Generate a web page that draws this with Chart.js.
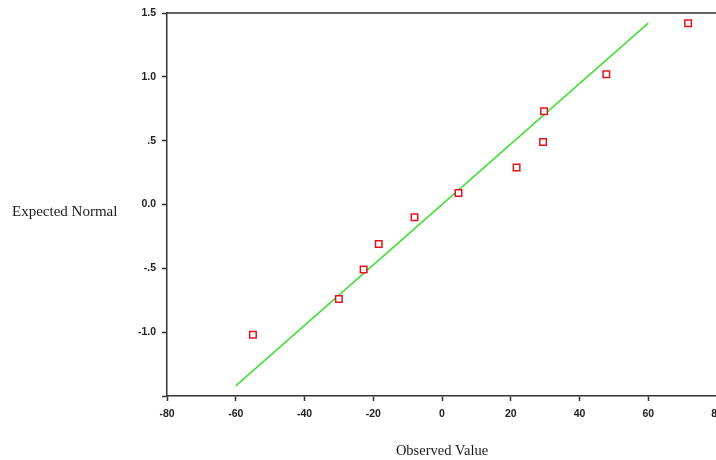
<!DOCTYPE html>
<html>
<head>
<meta charset="utf-8">
<script src="https://cdn.jsdelivr.net/npm/chart.js@4/dist/chart.umd.min.js"></script>
<style>
  html, body { margin: 0; padding: 0; background: #fff; overflow: hidden; }
  #wrap { position: relative; width: 737px; height: 460px; }
</style>
</head>
<body>
<div id="wrap"><canvas id="qq"></canvas></div>
<script>
// Observed values vs expected normal (Q-Q plot)
const observed = [-55, -30, -22.8, -18.4, -8, 4.8, 21.7, 29.4, 29.7, 47.8, 71.6];
const expected = [-1.02, -0.74, -0.51, -0.31, -0.10, 0.09, 0.29, 0.49, 0.73, 1.02, 1.42];

// Reference line end points
const lineX = [-60, 60];
const lineY = [-1.42, 1.42];

const yTickLabels = { '1.5': '1.5', '1': '1.0', '0.5': '.5', '0': '0.0', '-0.5': '-.5', '-1': '-1.0', '-1.5': '' };

// Frame (top line) and horizontal y-axis title
const framePlugin = {
    id: 'frame',
    afterDraw(chart) {
        const { ctx, chartArea } = chart;
        ctx.save();
        ctx.strokeStyle = '#333';
        ctx.lineWidth = 1.5;
        ctx.beginPath();
        ctx.moveTo(chartArea.left, chartArea.top);
        ctx.lineTo(chartArea.right + 2, chartArea.top);
        ctx.stroke();
        ctx.fillStyle = '#1a1a1a';
        ctx.font = '15px "Liberation Serif"';
        ctx.textBaseline = 'middle';
        ctx.textAlign = 'left';
        ctx.fillText('Expected Normal', 12, 212);
        ctx.restore();
    }
};

const ctx = document.getElementById('qq').getContext('2d');

new Chart(ctx, {
    type: 'scatter',
    data: {
        datasets: [
            {
                label: 'Observed',
                data: observed.map((x, i) => ({ x: x, y: expected[i] })),
                pointStyle: 'rect',
                pointRadius: 4.6,
                borderColor: '#e3141c',
                backgroundColor: '#ffffff',
                borderWidth: 1.5,
                order: 1
            },
            {
                label: 'Line',
                data: lineX.map((x, i) => ({ x: x, y: lineY[i] })),
                showLine: true,
                pointRadius: 0,
                borderColor: '#45dd3a',
                borderWidth: 1.6,
                order: 2
            }
        ]
    },
    options: {
        responsive: true,
        maintainAspectRatio: false,
        animation: false,
        layout: {
            padding: { left: 0, right: 20, top: 13, bottom: 0 }
        },
        plugins: {
            legend: { display: false },
            tooltip: { enabled: false }
        },
        scales: {
            x: {
                type: 'linear',
                min: -80,
                max: 80,
                afterFit: function(scale) { scale.height = 64; },
                ticks: {
                    stepSize: 20,
                    color: '#222',
                    padding: 7,
                    maxRotation: 0,
                    font: { family: 'Liberation Sans', size: 10.5, weight: 'bold' }
                },
                grid: {
                    drawOnChartArea: false,
                    drawTicks: true,
                    tickLength: 5,
                    tickColor: '#333',
                    tickWidth: 1.5
                },
                border: { display: true, color: '#333', width: 1.5 },
                title: {
                    display: true,
                    text: 'Observed Value',
                    color: '#1a1a1a',
                    padding: { top: 0, bottom: 0 },
                    font: { family: 'Liberation Serif', size: 14.5 }
                }
            },
            y: {
                type: 'linear',
                min: -1.5,
                max: 1.5,
                afterFit: function(scale) { scale.width = 167; },
                ticks: {
                    stepSize: 0.5,
                    color: '#222',
                    padding: 6,
                    font: { family: 'Liberation Sans', size: 10.5, weight: 'bold' },
                    callback: function(value) {
                        const key = String(Math.round(value * 10) / 10);
                        return key in yTickLabels ? yTickLabels[key] : '';
                    }
                },
                grid: {
                    drawOnChartArea: false,
                    drawTicks: true,
                    tickLength: 5,
                    tickColor: '#333',
                    tickWidth: 1.5
                },
                border: { display: true, color: '#333', width: 1.5 }
            }
        }
    },
    plugins: [framePlugin]
});
</script>
</body>
</html>
